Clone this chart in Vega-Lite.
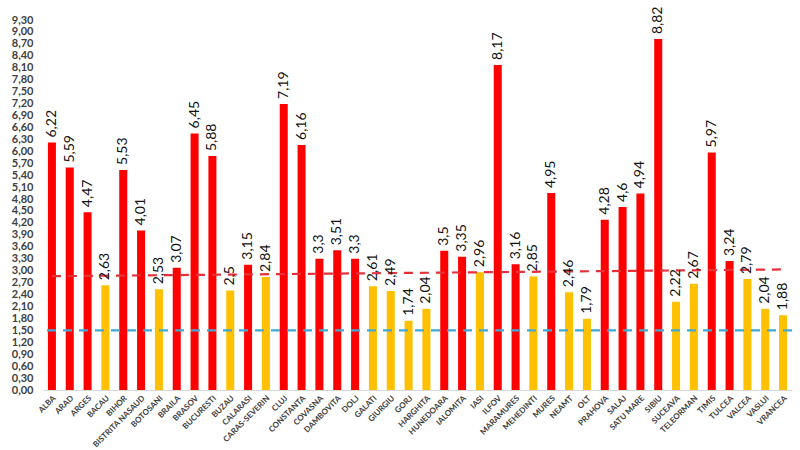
{
  "$schema": "https://vega.github.io/schema/vega-lite/v6.json",
  "autosize": "none",
  "width": 749,
  "height": 370,
  "padding": {"left": 43, "top": 20, "right": 8, "bottom": 60},
  "background": "white",
  "config": {
    "locale": {"number": {"decimal": ",", "thousands": ".", "grouping": [3], "currency": ["", " lei"]}},
    "font": "Lato",
    "view": {"stroke": null},
    "axisY": {"labelOverlap": false, "labelBound": false, "labelFlush": false}
  },
  "datasets": {
    "judete": [
      {"judet": "ALBA", "valoare": 6.22, "nivel": "peste"},
      {"judet": "ARAD", "valoare": 5.59, "nivel": "peste"},
      {"judet": "ARGES", "valoare": 4.47, "nivel": "peste"},
      {"judet": "BACAU", "valoare": 2.63, "nivel": "sub"},
      {"judet": "BIHOR", "valoare": 5.53, "nivel": "peste"},
      {"judet": "BISTRITA NASAUD", "valoare": 4.01, "nivel": "peste"},
      {"judet": "BOTOSANI", "valoare": 2.53, "nivel": "sub"},
      {"judet": "BRAILA", "valoare": 3.07, "nivel": "peste"},
      {"judet": "BRASOV", "valoare": 6.45, "nivel": "peste"},
      {"judet": "BUCURESTI", "valoare": 5.88, "nivel": "peste"},
      {"judet": "BUZAU", "valoare": 2.5, "nivel": "sub"},
      {"judet": "CALARASI", "valoare": 3.15, "nivel": "peste"},
      {"judet": "CARAS-SEVERIN", "valoare": 2.84, "nivel": "sub"},
      {"judet": "CLUJ", "valoare": 7.19, "nivel": "peste"},
      {"judet": "CONSTANTA", "valoare": 6.16, "nivel": "peste"},
      {"judet": "COVASNA", "valoare": 3.3, "nivel": "peste"},
      {"judet": "DAMBOVITA", "valoare": 3.51, "nivel": "peste"},
      {"judet": "DOLJ", "valoare": 3.3, "nivel": "peste"},
      {"judet": "GALATI", "valoare": 2.61, "nivel": "sub"},
      {"judet": "GIURGIU", "valoare": 2.49, "nivel": "sub"},
      {"judet": "GORJ", "valoare": 1.74, "nivel": "sub"},
      {"judet": "HARGHITA", "valoare": 2.04, "nivel": "sub"},
      {"judet": "HUNEDOARA", "valoare": 3.5, "nivel": "peste"},
      {"judet": "IALOMITA", "valoare": 3.35, "nivel": "peste"},
      {"judet": "IASI", "valoare": 2.96, "nivel": "sub"},
      {"judet": "ILFOV", "valoare": 8.17, "nivel": "peste"},
      {"judet": "MARAMURES", "valoare": 3.16, "nivel": "peste"},
      {"judet": "MEHEDINTI", "valoare": 2.85, "nivel": "sub"},
      {"judet": "MURES", "valoare": 4.95, "nivel": "peste"},
      {"judet": "NEAMT", "valoare": 2.46, "nivel": "sub"},
      {"judet": "OLT", "valoare": 1.79, "nivel": "sub"},
      {"judet": "PRAHOVA", "valoare": 4.28, "nivel": "peste"},
      {"judet": "SALAJ", "valoare": 4.6, "nivel": "peste"},
      {"judet": "SATU MARE", "valoare": 4.94, "nivel": "peste"},
      {"judet": "SIBIU", "valoare": 8.82, "nivel": "peste"},
      {"judet": "SUCEAVA", "valoare": 2.22, "nivel": "sub"},
      {"judet": "TELEORMAN", "valoare": 2.67, "nivel": "sub"},
      {"judet": "TIMIS", "valoare": 5.97, "nivel": "peste"},
      {"judet": "TULCEA", "valoare": 3.24, "nivel": "peste"},
      {"judet": "VALCEA", "valoare": 2.79, "nivel": "sub"},
      {"judet": "VASLUI", "valoare": 2.04, "nivel": "sub"},
      {"judet": "VRANCEA", "valoare": 1.88, "nivel": "sub"}
    ],
    "prag_rosu": [
      {"start": "ALBA", "end": "VRANCEA", "y1": 2.86, "y2": 3.03}
    ],
    "prag_albastru": [
      {"valoare": 1.5}
    ]
  },
  "layer": [
    {
      "data": {"name": "judete"},
      "mark": {"type": "bar"},
      "encoding": {
        "x": {
          "field": "judet",
          "type": "nominal",
          "sort": null,
          "scale": {"paddingInner": 0.55, "paddingOuter": 0.275},
          "axis": {
            "title": null,
            "labelAngle": -45,
            "labelAlign": "right",
            "labelBaseline": "top",
            "labelFontSize": 8,
            "labelFontWeight": "bold",
            "labelColor": "#404040",
            "labelPadding": 4,
            "ticks": false,
            "domainColor": "#d9d9d9",
            "labelOverlap": false
          }
        },
        "y": {
          "field": "valoare",
          "type": "quantitative",
          "scale": {"domain": [0, 9.3], "nice": false},
          "axis": {
            "title": null,
            "values": [0, 0.3, 0.6, 0.9, 1.2, 1.5, 1.8, 2.1, 2.4, 2.7, 3, 3.3, 3.6, 3.9, 4.2, 4.5, 4.8, 5.1, 5.4, 5.7, 6, 6.3, 6.6, 6.9, 7.2, 7.5, 7.8, 8.1, 8.4, 8.7, 9, 9.3],
            "tickCount": 40,
            "format": ".2f",
            "grid": false,
            "domain": false,
            "ticks": false,
            "labelFontSize": 11,
            "labelFontWeight": "bold",
            "labelColor": "#404040",
            "labelPadding": 10,
            "labelOverlap": false
          }
        },
        "color": {
          "field": "nivel",
          "type": "nominal",
          "scale": {"domain": ["peste", "sub"], "range": ["#ff0000", "#ffc000"]},
          "legend": null
        }
      }
    },
    {
      "data": {"name": "prag_albastru"},
      "mark": {"type": "rule", "color": "#3fa9d4", "strokeWidth": 2.2, "strokeDash": [9, 7]},
      "encoding": {
        "y": {"field": "valoare", "type": "quantitative"}
      }
    },
    {
      "data": {"name": "prag_rosu"},
      "mark": {"type": "rule", "color": "#e5303a", "strokeWidth": 2.2, "strokeDash": [9, 7]},
      "encoding": {
        "x": {"field": "start", "type": "nominal", "sort": null},
        "x2": {"field": "end"},
        "y": {"field": "y1", "type": "quantitative"},
        "y2": {"field": "y2"}
      }
    },
    {
      "data": {"name": "judete"},
      "mark": {"type": "text", "angle": 270, "align": "left", "baseline": "middle", "dx": 5, "fontSize": 14, "color": "#111111"},
      "encoding": {
        "x": {"field": "judet", "type": "nominal", "sort": null},
        "y": {"field": "valoare", "type": "quantitative"},
        "text": {"field": "valoare", "type": "quantitative", "format": "~g"}
      }
    }
  ]
}
